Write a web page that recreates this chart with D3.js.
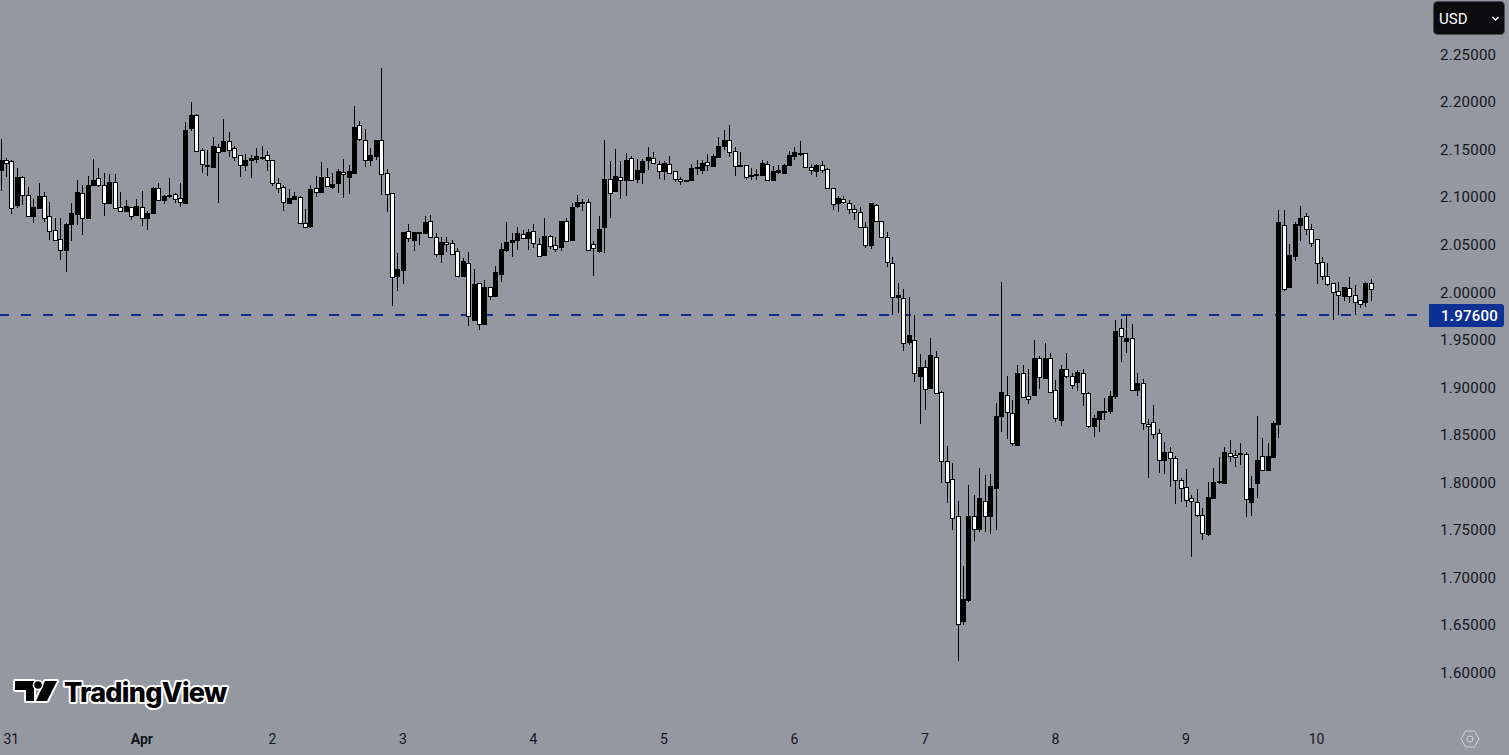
<!DOCTYPE html>
<html>
<head>
<meta charset="utf-8">
<script src="https://cdn.jsdelivr.net/npm/d3@7"></script>
<style>
  html, body { margin: 0; padding: 0; background: #9598a1; overflow: hidden; }
  svg { display: block; }
</style>
</head>
<body>
<svg id="chart"></svg>
<script>
// hourly candles (black = up, white = down)
const opens = [
  2.128,2.139,2.137,2.091,2.121,2.102,2.080,2.088,2.101,2.080,
  2.065,2.055,2.044,2.071,2.082,2.104,2.078,2.112,2.120,2.112,
  2.093,2.115,2.089,2.085,2.089,2.081,2.089,2.078,2.083,2.109,
  2.096,2.101,2.103,2.099,2.093,2.172,2.186,2.149,2.132,2.131,
  2.152,2.148,2.159,2.151,2.144,2.133,2.138,2.140,2.141,2.144,
  2.138,2.114,2.110,2.093,2.097,2.100,2.072,2.069,2.109,2.105,
  2.121,2.110,2.114,2.126,2.121,2.125,2.175,2.160,2.139,2.143,
  2.160,2.125,2.104,2.016,2.023,2.064,2.054,2.062,2.062,2.074,
  2.057,2.040,2.052,2.051,2.043,2.016,2.030,1.970,2.009,1.966,
  2.005,1.995,2.019,2.044,2.052,2.054,2.061,2.056,2.064,2.050,
  2.039,2.059,2.049,2.047,2.074,2.054,2.090,2.093,2.094,2.050,
  2.043,2.068,2.119,2.106,2.121,2.117,2.141,2.119,2.126,2.138,
  2.141,2.134,2.127,2.134,2.127,2.119,2.116,2.118,2.130,2.128,
  2.136,2.132,2.142,2.153,2.160,2.148,2.132,2.133,2.122,2.123,
  2.123,2.134,2.117,2.126,2.125,2.133,2.143,2.145,2.146,2.131,
  2.127,2.133,2.129,2.109,2.093,2.097,2.093,2.087,2.084,2.068,
  2.049,2.091,2.074,2.058,2.030,1.994,1.993,1.947,1.949,1.911,
  1.921,1.899,1.931,1.895,1.822,1.803,1.764,1.654,1.676,1.764,
  1.750,1.780,1.764,1.794,1.869,1.891,1.872,1.839,1.915,1.890,
  1.891,1.930,1.909,1.930,1.897,1.865,1.919,1.911,1.905,1.915,
  1.893,1.859,1.866,1.873,1.875,1.890,1.962,1.948,1.951,1.897,
  1.904,1.861,1.863,1.851,1.823,1.831,1.825,1.802,1.795,1.783,
  1.779,1.765,1.745,1.783,1.800,1.799,1.830,1.828,1.829,1.829,
  1.779,1.799,1.827,1.812,1.826,1.861,2.070,2.005,2.038,2.070,
  2.080,2.066,2.055,2.031,2.016,2.009,2.001,1.995,2.004,1.996,
  1.991,1.989,2.009
];
const highs = [
  2.161,2.141,2.139,2.130,2.122,2.110,2.097,2.114,2.105,2.094,
  2.078,2.078,2.072,2.093,2.118,2.112,2.122,2.140,2.130,2.125,
  2.124,2.124,2.105,2.096,2.089,2.097,2.106,2.085,2.110,2.114,
  2.102,2.120,2.104,2.114,2.179,2.199,2.187,2.151,2.149,2.163,
  2.155,2.182,2.168,2.153,2.144,2.145,2.144,2.151,2.153,2.148,
  2.139,2.120,2.112,2.108,2.105,2.101,2.087,2.112,2.122,2.136,
  2.130,2.125,2.129,2.140,2.133,2.195,2.180,2.171,2.151,2.160,
  2.235,2.129,2.104,2.041,2.063,2.071,2.063,2.063,2.080,2.081,
  2.062,2.057,2.058,2.054,2.046,2.035,2.042,2.024,2.009,2.012,
  2.005,2.027,2.051,2.073,2.062,2.068,2.065,2.066,2.071,2.056,
  2.078,2.060,2.057,2.074,2.077,2.093,2.102,2.097,2.098,2.053,
  2.080,2.160,2.137,2.150,2.137,2.146,2.143,2.140,2.140,2.152,
  2.147,2.137,2.137,2.143,2.127,2.121,2.118,2.134,2.139,2.139,
  2.145,2.145,2.163,2.170,2.175,2.152,2.147,2.133,2.130,2.129,
  2.138,2.137,2.132,2.133,2.134,2.148,2.152,2.158,2.146,2.134,
  2.134,2.137,2.130,2.109,2.101,2.101,2.096,2.091,2.089,2.073,
  2.093,2.092,2.074,2.063,2.037,2.009,2.003,1.994,1.976,1.934,
  1.928,1.951,1.938,1.896,1.838,1.820,1.780,1.711,1.797,1.786,
  1.815,1.807,1.808,1.883,2.010,1.911,1.886,1.923,1.923,1.919,
  1.949,1.932,1.946,1.935,1.907,1.923,1.935,1.915,1.918,1.919,
  1.894,1.870,1.875,1.888,1.896,1.970,1.971,1.975,1.966,1.915,
  1.908,1.866,1.881,1.856,1.842,1.837,1.827,1.804,1.813,1.786,
  1.793,1.773,1.800,1.815,1.826,1.837,1.844,1.834,1.841,1.831,
  1.806,1.869,1.846,1.841,1.864,2.086,2.086,2.050,2.073,2.090,
  2.083,2.071,2.055,2.037,2.030,2.009,2.010,2.005,2.015,2.007,
  1.991,2.010,2.013
];
const lows = [
  2.106,2.121,2.082,2.088,2.091,2.080,2.072,2.088,2.073,2.054,
  2.053,2.033,2.021,2.053,2.070,2.060,2.078,2.112,2.110,2.080,
  2.093,2.088,2.084,2.085,2.075,2.081,2.069,2.065,2.083,2.095,
  2.092,2.099,2.093,2.089,2.093,2.169,2.148,2.125,2.122,2.131,
  2.093,2.148,2.142,2.137,2.121,2.127,2.120,2.135,2.138,2.127,
  2.111,2.104,2.085,2.093,2.097,2.072,2.068,2.067,2.100,2.105,
  2.110,2.108,2.104,2.099,2.103,2.124,2.159,2.131,2.132,2.139,
  2.102,2.084,1.985,2.001,2.008,2.052,2.043,2.049,2.062,2.057,
  2.036,2.030,2.042,2.040,2.015,2.015,1.964,1.970,1.960,1.966,
  1.991,1.995,2.010,2.042,2.036,2.044,2.056,2.044,2.046,2.038,
  2.039,2.045,2.042,2.043,2.052,2.054,2.088,2.085,2.043,2.017,
  2.041,2.041,2.078,2.106,2.098,2.101,2.117,2.114,2.113,2.128,
  2.134,2.119,2.118,2.125,2.115,2.112,2.115,2.118,2.123,2.124,
  2.127,2.132,2.142,2.149,2.142,2.122,2.131,2.117,2.117,2.118,
  2.123,2.117,2.117,2.124,2.125,2.133,2.138,2.143,2.131,2.123,
  2.121,2.125,2.109,2.086,2.084,2.092,2.082,2.075,2.067,2.046,
  2.045,2.073,2.057,2.026,1.976,1.978,1.938,1.944,1.905,1.861,
  1.876,1.899,1.893,1.799,1.778,1.749,1.612,1.649,1.674,1.738,
  1.747,1.747,1.745,1.749,1.852,1.845,1.838,1.839,1.888,1.882,
  1.890,1.898,1.909,1.895,1.863,1.859,1.909,1.898,1.896,1.880,
  1.857,1.847,1.852,1.865,1.871,1.887,1.926,1.935,1.897,1.890,
  1.855,1.804,1.845,1.809,1.808,1.795,1.777,1.779,1.774,1.721,
  1.763,1.739,1.743,1.783,1.798,1.799,1.821,1.816,1.818,1.763,
  1.764,1.783,1.812,1.812,1.826,1.846,2.001,2.005,2.032,2.053,
  2.060,2.047,2.008,2.012,2.006,1.970,1.975,1.990,1.988,1.976,
  1.983,1.984,1.990
];
const closes = [
  2.139,2.135,2.088,2.121,2.102,2.080,2.089,2.101,2.078,2.064,
  2.054,2.044,2.071,2.083,2.105,2.077,2.112,2.117,2.112,2.093,
  2.115,2.088,2.085,2.090,2.080,2.090,2.077,2.083,2.109,2.096,
  2.101,2.102,2.098,2.094,2.170,2.186,2.148,2.134,2.133,2.153,
  2.147,2.159,2.149,2.142,2.133,2.138,2.141,2.143,2.142,2.138,
  2.114,2.109,2.094,2.099,2.101,2.072,2.068,2.108,2.105,2.121,
  2.111,2.113,2.127,2.124,2.127,2.173,2.161,2.139,2.144,2.160,
  2.124,2.103,2.015,2.024,2.063,2.056,2.063,2.063,2.073,2.057,
  2.040,2.052,2.050,2.040,2.016,2.032,1.974,2.008,1.966,2.005,
  1.995,2.021,2.045,2.052,2.054,2.062,2.056,2.063,2.051,2.038,
  2.059,2.048,2.045,2.074,2.053,2.089,2.094,2.094,2.044,2.046,
  2.066,2.119,2.104,2.122,2.117,2.139,2.118,2.128,2.137,2.142,
  2.135,2.127,2.135,2.125,2.119,2.116,2.117,2.130,2.131,2.135,
  2.133,2.143,2.153,2.160,2.147,2.132,2.133,2.121,2.123,2.124,
  2.135,2.118,2.127,2.128,2.133,2.144,2.147,2.146,2.131,2.128,
  2.133,2.128,2.109,2.092,2.099,2.094,2.087,2.084,2.068,2.049,
  2.093,2.074,2.057,2.031,1.994,1.996,1.946,1.954,1.915,1.921,
  1.898,1.933,1.893,1.822,1.800,1.762,1.651,1.677,1.764,1.750,
  1.783,1.764,1.796,1.869,1.895,1.873,1.841,1.914,1.889,1.887,
  1.930,1.910,1.930,1.895,1.867,1.919,1.911,1.902,1.916,1.893,
  1.859,1.867,1.874,1.875,1.890,1.959,1.953,1.951,1.897,1.904,
  1.862,1.859,1.850,1.823,1.831,1.825,1.802,1.794,1.781,1.780,
  1.765,1.746,1.784,1.800,1.801,1.831,1.827,1.826,1.830,1.782,
  1.794,1.823,1.812,1.827,1.862,2.073,2.003,2.039,2.071,2.077,
  2.066,2.051,2.030,2.016,2.008,2.000,1.996,2.005,1.995,1.989,
  1.987,2.009,2.003
];

const priceTicks = [1.60, 1.65, 1.70, 1.75, 1.80, 1.85, 1.90, 1.95, 2.00, 2.05, 2.10, 2.15, 2.20, 2.25];
const dayLabels = ['31', 'Apr', '2', '3', '4', '5', '6', '7', '8', '9', '10'];
const dayCandles = [2, 26, 50, 74, 98, 122, 146, 170, 194, 218, 242];
const currentPrice = 1.976;

const width = 1509;
const height = 755;

const svg = d3.select('#chart')
  .attr('width', width)
  .attr('height', height);

const xScale = d3.scaleLinear().domain([0, 252]).range([1.0, 1371.4]);
const yScale = d3.scaleLinear().domain([1.60, 2.25]).range([672, 54]);

// dashed level line
svg.append('line')
  .attr('x1', -1)
  .attr('x2', 1420)
  .attr('y1', Math.round(yScale(currentPrice)))
  .attr('y2', Math.round(yScale(currentPrice)))
  .attr('stroke', '#0f2d8a')
  .attr('stroke-width', 2)
  .attr('stroke-dasharray', '10 12')
  .attr('shape-rendering', 'crispEdges');

// candles
const candles = svg.append('g').selectAll('g')
  .data(d3.range(opens.length))
  .enter()
  .append('g')
  .attr('shape-rendering', 'crispEdges');

candles.append('line')
  .attr('x1', i => Math.floor(xScale(i)) + 0.5)
  .attr('x2', i => Math.floor(xScale(i)) + 0.5)
  .attr('y1', i => Math.round(yScale(highs[i])))
  .attr('y2', i => Math.round(yScale(lows[i])))
  .attr('stroke', '#000');

candles.append('rect')
  .attr('x', i => Math.floor(xScale(i)) - 1.5)
  .attr('width', 4)
  .attr('y', i => Math.round(yScale(Math.max(opens[i], closes[i]))) + 0.5)
  .attr('height', i => Math.max(1, Math.round(yScale(Math.min(opens[i], closes[i]))) - Math.round(yScale(Math.max(opens[i], closes[i])))))
  .attr('fill', i => closes[i] >= opens[i] ? '#000' : '#fff')
  .attr('stroke', '#000');

// price axis
const yAxis = svg.append('g')
  .attr('transform', 'translate(1440,0.5)')
  .call(d3.axisRight(yScale).tickValues(priceTicks).tickSize(0).tickPadding(0).tickFormat(d3.format('.5f')));
yAxis.select('.domain').remove();
yAxis.selectAll('text')
  .attr('fill', '#131722')
  .attr('font-family', 'Roboto, sans-serif')
  .attr('font-size', '15px')
  .attr('letter-spacing', '0.25px');

// time axis
const xAxis = svg.append('g')
  .attr('transform', 'translate(-1,734)')
  .call(d3.axisBottom(xScale).tickValues(dayCandles).tickSize(0).tickPadding(0).tickFormat((d, i) => dayLabels[i]));
xAxis.select('.domain').remove();
xAxis.selectAll('text')
  .attr('fill', '#131722')
  .attr('font-family', 'Roboto, sans-serif')
  .attr('font-size', '14px')
  .attr('font-weight', d => d === 26 ? 700 : 400);

// current price tag
svg.append('path')
  .attr('d', 'M1429,304H1501a3,3 0 0 1 3,3V324a3,3 0 0 1 -3,3H1429Z')
  .attr('fill', '#0d3094');
svg.append('text')
  .attr('x', 1441)
  .attr('y', 321)
  .attr('fill', '#fff')
  .attr('font-family', 'Roboto, sans-serif')
  .attr('font-size', '15px')
  .attr('font-weight', 500)
  .attr('letter-spacing', '0.25px')
  .text(d3.format('.5f')(currentPrice));

// currency button
svg.append('rect')
  .attr('x', 1433.5)
  .attr('y', 1.5)
  .attr('width', 71)
  .attr('height', 33)
  .attr('rx', 4)
  .attr('fill', '#0c0c0e')
  .attr('stroke', '#4a4c52');
svg.append('text')
  .attr('x', 1439)
  .attr('y', 24)
  .attr('fill', '#fff')
  .attr('font-family', 'Roboto, sans-serif')
  .attr('font-size', '15px')
  .text('USD');
svg.append('path')
  .attr('d', 'M1492.5,17l3,3l3,-3')
  .attr('fill', 'none')
  .attr('stroke', '#fff')
  .attr('stroke-width', 1.5);

// logo
const logo = svg.append('g');
const logoShapes = [
  'M15,681H34V701H26V690H15Z',
  'M45,681H57L47,701H36Z'
];
logo.selectAll('path')
  .data(logoShapes)
  .enter()
  .append('path')
  .attr('d', d => d)
  .attr('fill', '#000')
  .attr('stroke', '#fff')
  .attr('stroke-width', 4)
  .attr('stroke-linejoin', 'round')
  .attr('paint-order', 'stroke');
logo.append('circle')
  .attr('cx', 38)
  .attr('cy', 685)
  .attr('r', 3.8)
  .attr('fill', '#000')
  .attr('stroke', '#fff')
  .attr('stroke-width', 3)
  .attr('paint-order', 'stroke');
logo.append('text')
  .attr('x', 64)
  .attr('y', 702)
  .attr('fill', '#000')
  .attr('stroke', '#fff')
  .attr('stroke-width', 4)
  .attr('stroke-linejoin', 'round')
  .attr('paint-order', 'stroke')
  .attr('font-family', 'Inter, sans-serif')
  .attr('font-size', '27px')
  .attr('font-weight', 800)
  .attr('letter-spacing', '-0.7px')
  .text('TradingView');

// settings hexagon
svg.append('path')
  .attr('d', 'M1461,739L1465.5,731H1474.5L1479,739L1474.5,747H1465.5Z')
  .attr('fill', 'none')
  .attr('stroke', '#d0d2d6')
  .attr('stroke-width', 1);
svg.append('circle')
  .attr('cx', 1470)
  .attr('cy', 739)
  .attr('r', 3)
  .attr('fill', 'none')
  .attr('stroke', '#d0d2d6')
  .attr('stroke-width', 1);
</script>
</body>
</html>
